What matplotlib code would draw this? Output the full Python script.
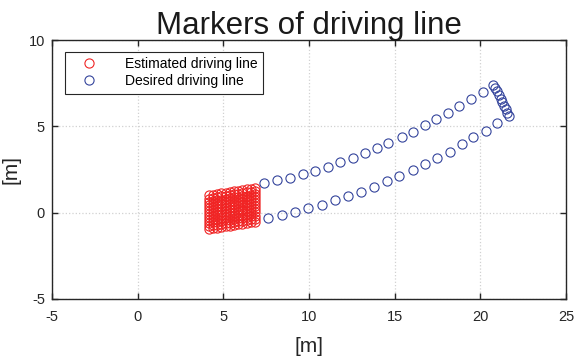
import numpy as np
import matplotlib
matplotlib.use('Agg')
import matplotlib.pyplot as plt

#------------------------------------------------------------------
# DATA
#------------------------------------------------------------------

# desired driving line: upper leg, turn, lower leg
upper_x = [7.39, 8.12, 8.89, 9.63, 10.35, 11.13, 11.81, 12.55, 13.27, 13.95,
           14.63, 15.41, 16.08, 16.76, 17.44, 18.12, 18.78, 19.46, 20.14, 20.76]
upper_y = [1.73, 1.89, 2.02, 2.24, 2.43, 2.66, 2.92, 3.15, 3.47, 3.73,
           4.05, 4.40, 4.69, 5.08, 5.40, 5.75, 6.18, 6.58, 7.00, 7.39]

turn_x = [20.88, 20.98, 21.08, 21.18, 21.28, 21.38, 21.48, 21.58, 21.68]
turn_y = [7.22, 7.02, 6.81, 6.60, 6.39, 6.18, 5.98, 5.78, 5.58]

lower_x = [7.59, 8.41, 9.19, 9.96, 10.74, 11.52, 12.30, 13.04, 13.81, 14.54,
           15.28, 16.06, 16.78, 17.46, 18.24, 18.92, 19.60, 20.34, 20.98]
lower_y = [-0.33, -0.15, 0.06, 0.25, 0.44, 0.73, 0.96, 1.21, 1.50, 1.83,
           2.12, 2.47, 2.82, 3.15, 3.53, 3.96, 4.36, 4.75, 5.18]

# estimated driving line: a sheared block of markers
est_col_x = [4.15, 4.40, 4.64, 4.89, 5.13, 5.38, 5.62, 5.87, 6.11, 6.36, 6.60, 6.85]
est_col_shift = [0.00, 0.04, 0.08, 0.12, 0.16, 0.20, 0.24, 0.28, 0.31, 0.35, 0.39, 0.43]
est_row_y = [-0.95, -0.77, -0.60, -0.42, -0.24, -0.07, 0.11, 0.29, 0.46, 0.64, 0.82, 1.00]

xticks = [-5, 0, 5, 10, 15, 20, 25]
yticks = [-5, 0, 5, 10]

#------------------------------------------------------------------
# SETTINGS
#------------------------------------------------------------------

plt.rcParams['font.family'] = ['Liberation Sans', 'DejaVu Sans']
plt.rcParams['axes.unicode_minus'] = False
tick_font = 10.5
label_font = 15
title_font = 22.5
red = '#f02424'
blue = '#34449c'
dark = '0.15'

#------------------------------------------------------------------
# PLOT
#------------------------------------------------------------------

f = plt.figure(figsize=(5.75, 3.61), dpi=100)
ax = f.add_axes([52/575, 1-299/361, 514/575, 259/361])

ex, ey = np.meshgrid(est_col_x, est_row_y)
ey = ey + np.array(est_col_shift)[None, :]

desired_x = upper_x + turn_x + lower_x
desired_y = upper_y + turn_y + lower_y

ax.plot(ex.ravel(), ey.ravel(), 'o', mfc='none', mec=red, ms=6.6, mew=0.8,
        label='Estimated driving line', zorder=3)
ax.plot(desired_x, desired_y, 'o', mfc='none', mec=blue, ms=6.6, mew=0.8,
        label='Desired driving line', zorder=3)

ax.set_xlim(-5, 25)
ax.set_ylim(-5, 10)
ax.set_xticks(xticks)
ax.set_yticks(yticks)
ax.grid(True, color='0.82', linestyle=':', linewidth=0.9)
ax.set_axisbelow(True)
ax.tick_params(direction='in', top=True, right=True, length=4, width=1,
               color=dark, labelcolor=dark, labelsize=tick_font)
ax.tick_params(axis='x', pad=8)
ax.tick_params(axis='y', pad=5)
for s in ax.spines.values():
    s.set_color(dark)
    s.set_linewidth(1.0)

ax.set_xlabel('[m]', fontsize=label_font, color=dark, labelpad=9)
ax.set_ylabel('[m]', fontsize=label_font, color=dark, labelpad=6)
ax.set_title('Markers of driving line', fontsize=title_font, color='0.1', pad=4)

leg = ax.legend(loc='upper left', bbox_to_anchor=(0.025, 0.955), fontsize=10,
                frameon=True, fancybox=False, borderpad=0.4, handletextpad=1.2,
                borderaxespad=0, labelspacing=0.2, handlelength=2.7)
leg.get_frame().set_edgecolor(dark)
leg.get_frame().set_linewidth(0.8)
leg.get_frame().set_alpha(1)

f.savefig('out.png', dpi=100)
